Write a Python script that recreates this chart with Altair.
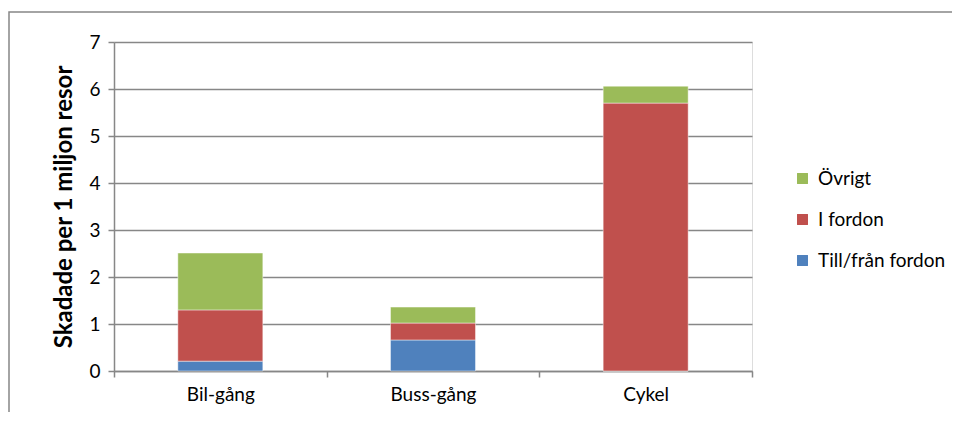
import altair as alt
import pandas as pd

categories = ["Bil-gång", "Buss-gång", "Cykel"]
series = ["Till/från fordon", "I fordon", "Övrigt"]
till_fran = [0.21, 0.66, 0.0]
i_fordon = [1.09, 0.36, 5.70]
ovrigt = [1.21, 0.34, 0.36]
colors = ["#4F81BD", "#C0504D", "#9BBB59"]
y_ticks = [0, 1, 2, 3, 4, 5, 6, 7]
y_title = "Skadade per 1 miljon resor"

rows = []
for s_idx, (name, vals) in enumerate(zip(series, [till_fran, i_fordon, ovrigt])):
    for c, v in zip(categories, vals):
        rows.append({"kategori": c, "serie": name, "varde": v, "ordning": s_idx})
df = pd.DataFrame(rows)

FONT = "Lato"
GRAY = "#878787"

bars = alt.Chart(df).mark_bar(size=85, stroke="white", strokeOpacity=0.45, strokeWidth=1).encode(
    x=alt.X("kategori:N", sort=categories, title=None,
            scale=alt.Scale(paddingInner=0, paddingOuter=0),
            axis=alt.Axis(labelAngle=0, tickBand="extent", domainColor=GRAY, tickColor=GRAY,
                          tickSize=6, labelPadding=8, labelFontSize=19, labelFont=FONT,
                          labelColor="black", grid=False, domainWidth=1.5, tickWidth=1.5)),
    y=alt.Y("varde:Q", stack="zero", title=y_title,
            scale=alt.Scale(domain=[0, 7], nice=False),
            axis=alt.Axis(values=y_ticks, format="d", grid=True, gridColor=GRAY, gridWidth=1.5,
                          domainColor=GRAY, domainWidth=1.5, tickColor=GRAY, tickSize=6, tickWidth=1.5,
                          labelPadding=8, labelFontSize=19, labelFont=FONT, labelColor="black",
                          titleFont=FONT, titleFontSize=24, titleFontWeight="bold",
                          titleColor="black", titlePadding=12)),
    color=alt.Color("serie:N", sort=series,
                    scale=alt.Scale(domain=series, range=colors),
                    legend=alt.Legend(title=None, orient="none", legendX=679, legendY=127,
                                      symbolType="square", symbolSize=120, symbolStrokeWidth=0,
                                      labelFont=FONT, labelFontSize=19, labelColor="black",
                                      rowPadding=21, labelOffset=6,
                                      values=list(reversed(series)))),
    order=alt.Order("ordning:Q"),
)

border_df = pd.DataFrame({"b": [1]})
border = alt.Chart(border_df).mark_rect(fill=None, stroke=GRAY, strokeWidth=1.5).encode(
    x=alt.value(-105), x2=alt.value(839), y=alt.value(-30), y2=alt.value(420)
)

chart = alt.layer(border, bars).properties(
    width=638, height=329,
    autosize=alt.AutoSizeParams(type="none"),
    padding={"left": 106, "top": 34, "right": 200, "bottom": 41},
).configure_view(stroke=None).configure(background="white")

chart.save("out.html", embed_options={"renderer": "svg", "actions": False})
